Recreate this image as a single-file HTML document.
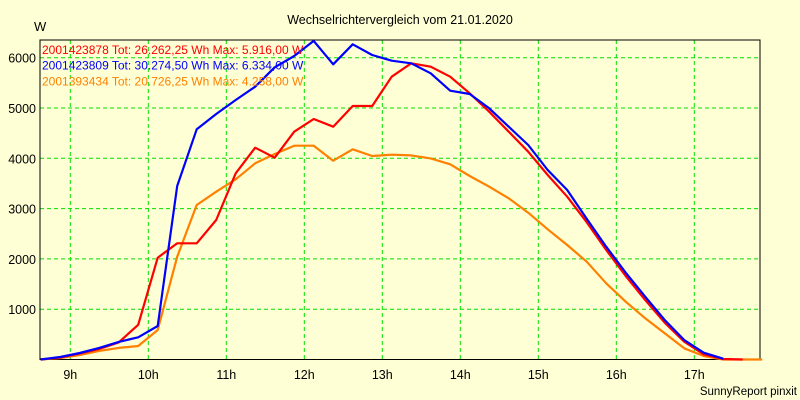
<!DOCTYPE html>
<html><head><meta charset="utf-8">
<style>
html,body{margin:0;padding:0;background:#FFFFD5;}
svg{display:block;font-family:"Liberation Sans",sans-serif;}
</style></head>
<body>
<svg id="chart" width="800" height="400" viewBox="0 0 800 400" xmlns="http://www.w3.org/2000/svg">
<rect x="0" y="0" width="800" height="400" fill="#FFFFD5"/>
<text x="400" y="24" font-size="12.5" text-anchor="middle" fill="#000">Wechselrichtervergleich vom 21.01.2020</text>
<text x="34" y="31" font-size="13" fill="#000">W</text>
<g id="grid"></g>
<g id="axes"></g>
<g id="series"></g>
<g id="legend"></g>
<text x="797" y="395" font-size="11.5" text-anchor="end" fill="#000">SunnyReport pinxit</text>
</svg>
<script>
const hourTicks = [9,10,11,12,13,14,15,16,17];
const hourLabels = ["9h","10h","11h","12h","13h","14h","15h","16h","17h"];
const powerTicks = [1000,2000,3000,4000,5000,6000];
const startHour = 8.62;
const stepHour = 0.25;
const red = [0,40,120,210,340,690,2024,2310,2310,2773,3702,4211,4012,4529,4781,4628,5040,5040,5622,5889,5821,5622,5292,4927,4529,4131,3668,3237,2730,2177,1660,1183,732,354,103,10,0];
const blue = [0,50,130,230,350,441,666,3450,4577,4880,5159,5423,5809,6034,6334,5869,6266,6054,5940,5889,5690,5344,5278,4994,4628,4264,3767,3370,2800,2243,1726,1249,785,388,135,15];
const orange = [0,30,90,170,230,268,586,2044,3072,3336,3583,3900,4085,4250,4250,3952,4178,4045,4072,4058,3999,3880,3648,3436,3204,2918,2588,2276,1944,1515,1149,819,521,223,70,0,0,0];
const legendLabels = ["2001423878 Tot: 26.262,25 Wh Max: 5.916,00 W","2001423809 Tot: 30.274,50 Wh Max: 6.334,00 W","2001393434 Tot: 20.726,25 Wh Max: 4.258,00 W"];

const L=40,R=760,T=40,B=359.5;
function xs(h){return 148.3+(h-10)*78;}
function ys(v){return B-v*0.0503;}
const NS="http://www.w3.org/2000/svg";
function mk(tag,attrs,parent){const e=document.createElementNS(NS,tag);for(const k in attrs)e.setAttribute(k,attrs[k]);parent.appendChild(e);return e;}
const grid=document.getElementById('grid'),axes=document.getElementById('axes'),series=document.getElementById('series'),legend=document.getElementById('legend');

hourTicks.forEach((h,i)=>{
  const x=xs(h);
  const ln=mk('line',{x1:x,x2:x,y1:T,y2:B,stroke:'#00E000','stroke-width':1,'stroke-dasharray':'4,3'},grid);
  
  
  const t=mk('text',{x:x,y:379,'font-size':12.5,'text-anchor':'middle',fill:'#000'},axes);
  t.textContent=hourLabels[i];
  
  
});
powerTicks.forEach(v=>{
  const y=ys(v);
  const ln=mk('line',{x1:L,x2:R,y1:y,y2:y,stroke:'#00E000','stroke-width':1,'stroke-dasharray':'4,3'},grid);
  
  
  const t=mk('text',{x:36,y:y+5,'font-size':12.5,'text-anchor':'end',fill:'#000'},axes);
  t.textContent=String(v);
  
  
});
const frame=mk('rect',{x:L,y:T,width:R-L,height:B-T,fill:'none',stroke:'#000','stroke-width':1},axes);



function drawSeries(arr,color,name){
  const pts=arr.map((v,i)=>xs(startHour+i*stepHour).toFixed(1)+','+ys(v).toFixed(1)).join(' ');
  const p=mk('polyline',{points:pts,fill:'none',stroke:color,'stroke-width':2.2,'stroke-linejoin':'round'},series);
  
  
}
drawSeries(orange,'#FF8000','series-2001393434');
drawSeries(red,'#FF0000','series-2001423878');
drawSeries(blue,'#0000FF','series-2001423809');

const legColors=['#FF0000','#0000FF','#FF8000'];
legendLabels.forEach((s,i)=>{
  const t=mk('text',{x:42,y:54+i*15.7,'font-size':12,fill:legColors[i]},legend);
  t.textContent=s;
  
  
});
</script>
</body></html>
